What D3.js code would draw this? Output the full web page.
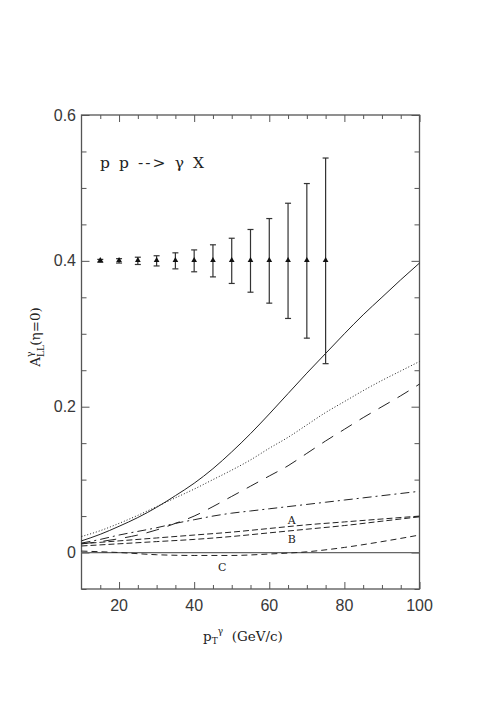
<!DOCTYPE html>
<html>
<head>
<meta charset="utf-8">
<script src="https://cdn.jsdelivr.net/npm/d3@7"></script>
<style>
  body { margin: 0; background: #fff; }
  svg { display: block; }
</style>
</head>
<body>
<div id="chart"></div>
<script>
// The svg
var width = 490;
var height = 708;

// plot frame
var plotLeft = 81.5, plotRight = 419.5, plotTop = 115, plotBottom = 589;

// data
var xGrid = [10, 15, 20, 25, 30, 35, 40, 45, 50, 55, 60, 65, 70, 75, 80, 85, 90, 95, 100];
var solid    = [0.016, 0.025, 0.036, 0.048, 0.062, 0.078, 0.095, 0.115, 0.138, 0.163, 0.190, 0.218, 0.246, 0.273, 0.300, 0.326, 0.350, 0.374, 0.397];
var dotted   = [0.022, 0.030, 0.040, 0.051, 0.063, 0.075, 0.087, 0.100, 0.113, 0.127, 0.143, 0.158, 0.175, 0.192, 0.207, 0.222, 0.236, 0.249, 0.262];
var longDash = [0.012, 0.015, 0.019, 0.024, 0.031, 0.040, 0.050, 0.063, 0.077, 0.091, 0.105, 0.119, 0.136, 0.153, 0.169, 0.185, 0.200, 0.215, 0.231];
var dashDot  = [0.013, 0.018, 0.024, 0.029, 0.034, 0.040, 0.045, 0.050, 0.054, 0.057, 0.060, 0.063, 0.066, 0.069, 0.072, 0.075, 0.078, 0.081, 0.084];

var xCoarse = [10, 20, 30, 40, 50, 60, 70, 80, 90, 100];
var curveA = [0.012, 0.016, 0.020, 0.024, 0.028, 0.033, 0.038, 0.042, 0.046, 0.050];
var curveB = [0.009, 0.012, 0.015, 0.018, 0.022, 0.027, 0.032, 0.037, 0.043, 0.049];
var curveC = [0.002, 0.000, -0.003, -0.004, -0.004, -0.002, 0.001, 0.007, 0.015, 0.024];

// error bar points
var errX   = [15, 20, 25, 30, 35, 40, 45, 50, 55, 60, 65, 70, 75];
var errY   = [0.4, 0.4, 0.4, 0.4, 0.4, 0.4, 0.4, 0.4, 0.4, 0.4, 0.4, 0.4, 0.4];
var errBar = [0.002, 0.003, 0.005, 0.007, 0.011, 0.015, 0.022, 0.031, 0.043, 0.058, 0.079, 0.106, 0.141];

var xTicks = [20, 40, 60, 80, 100];
var yTicks = [0, 0.2, 0.4, 0.6];
var yTickLabels = ["0", "0.2", "0.4", "0.6"];

var svg = d3.select("#chart")
    .append("svg")
    .attr("width", width)
    .attr("height", height);

var x = d3.scaleLinear().domain([10, 100]).range([plotLeft, plotRight]);
var y = d3.scaleLinear().domain([-0.05, 0.6]).range([plotBottom, plotTop]);

var frameColor = "#555";

// ticks (inward on all four sides)
var minorX = d3.range(15, 100, 5).filter(function (d) { return d % 20 != 0 });
var minorY = [-0.05, 0.05, 0.1, 0.15, 0.25, 0.3, 0.35, 0.45, 0.5, 0.55];

function drawAxis(axis, tx, ty) {
    var g = svg.append("g").attr("transform", "translate(" + tx + "," + ty + ")").call(axis);
    g.select(".domain").remove();
    g.selectAll("line").attr("stroke", frameColor).attr("stroke-width", 1);
    return g;
}

drawAxis(d3.axisBottom(x).tickValues(xTicks).tickSize(-7).tickFormat(""), 0, plotBottom);
drawAxis(d3.axisBottom(x).tickValues(minorX).tickSize(-4).tickFormat(""), 0, plotBottom);
drawAxis(d3.axisTop(x).tickValues(xTicks).tickSize(-7).tickFormat(""), 0, plotTop);
drawAxis(d3.axisTop(x).tickValues(minorX).tickSize(-4).tickFormat(""), 0, plotTop);
drawAxis(d3.axisLeft(y).tickValues(yTicks).tickSize(-8).tickFormat(""), plotLeft, 0);
drawAxis(d3.axisLeft(y).tickValues(minorY).tickSize(-5).tickFormat(""), plotLeft, 0);
drawAxis(d3.axisRight(y).tickValues(yTicks).tickSize(-8).tickFormat(""), plotRight, 0);
drawAxis(d3.axisRight(y).tickValues(minorY).tickSize(-5).tickFormat(""), plotRight, 0);

// tick labels
svg.append("g")
    .selectAll("text")
    .data(xTicks)
    .enter()
    .append("text")
    .attr("x", function (d) { return x(d) })
    .attr("y", 611)
    .attr("text-anchor", "middle")
    .attr("font-family", "Liberation Sans, Arial, sans-serif")
    .attr("font-size", 16)
    .attr("fill", "#383838")
    .text(function (d) { return d });

svg.append("g")
    .selectAll("text")
    .data(yTicks)
    .enter()
    .append("text")
    .attr("x", 76)
    .attr("y", function (d) { return y(d) + 5.5 })
    .attr("text-anchor", "end")
    .attr("font-family", "Liberation Sans, Arial, sans-serif")
    .attr("font-size", 16)
    .attr("fill", "#383838")
    .text(function (d, i) { return yTickLabels[i] });

// frame
svg.append("rect")
    .attr("x", plotLeft)
    .attr("y", plotTop)
    .attr("width", plotRight - plotLeft)
    .attr("height", plotBottom - plotTop)
    .attr("fill", "none")
    .attr("stroke", frameColor)
    .attr("stroke-width", 1.3);

// zero line
svg.append("line")
    .attr("x1", x(10)).attr("x2", x(100))
    .attr("y1", y(0)).attr("y2", y(0))
    .attr("stroke", "#666")
    .attr("stroke-width", 1.3);

// curves
var line = d3.line()
    .x(function (d) { return x(d[0]) })
    .y(function (d) { return y(d[1]) })
    .curve(d3.curveMonotoneX);

var curves = [
    { xs: xGrid, ys: solid, dash: null },
    { xs: xGrid, ys: dotted, dash: "1,2" },
    { xs: xGrid, ys: longDash, dash: "13,9" },
    { xs: xGrid, ys: dashDot, dash: "9,4,2,4" },
    { xs: xCoarse, ys: curveA, dash: "6,3" },
    { xs: xCoarse, ys: curveB, dash: "6,3" },
    { xs: xCoarse, ys: curveC, dash: "6,4" }
];

svg.append("g")
    .selectAll("path")
    .data(curves)
    .enter()
    .append("path")
    .attr("d", function (c) { return line(c.xs.map(function (v, i) { return [v, c.ys[i]] })) })
    .attr("fill", "none")
    .attr("stroke", "#222")
    .attr("stroke-width", 1)
    .attr("stroke-dasharray", function (c) { return c.dash });

// curve labels
var labels = [
    { t: "A", xv: 66, yv: 0.045 },
    { t: "B", xv: 66, yv: 0.019 },
    { t: "C", xv: 47.5, yv: -0.02 }
];
svg.append("g")
    .selectAll("text")
    .data(labels)
    .enter()
    .append("text")
    .attr("x", function (d) { return x(d.xv) })
    .attr("y", function (d) { return y(d.yv) + 4 })
    .attr("text-anchor", "middle")
    .attr("font-family", "DejaVu Serif, serif")
    .attr("font-size", 11)
    .attr("fill", "#222")
    .text(function (d) { return d.t });

// error bars
var errs = errX.map(function (v, i) { return { x: v, y: errY[i], e: errBar[i] } });
var eg = svg.append("g").attr("stroke", "#333").attr("stroke-width", 1.2);
eg.selectAll(".bar")
    .data(errs)
    .enter()
    .append("line")
    .attr("x1", function (d) { return x(d.x) })
    .attr("x2", function (d) { return x(d.x) })
    .attr("y1", function (d) { return y(d.y - d.e) })
    .attr("y2", function (d) { return y(d.y + d.e) });
[-1, 1].forEach(function (s) {
    eg.selectAll(".cap" + s)
        .data(errs)
        .enter()
        .append("line")
        .attr("x1", function (d) { return x(d.x) - 3 })
        .attr("x2", function (d) { return x(d.x) + 3 })
        .attr("y1", function (d) { return y(d.y + s * d.e) })
        .attr("y2", function (d) { return y(d.y + s * d.e) });
});
svg.append("g")
    .selectAll("path")
    .data(errs)
    .enter()
    .append("path")
    .attr("d", d3.symbol().type(d3.symbolTriangle).size(14))
    .attr("transform", function (d) { return "translate(" + x(d.x) + "," + (y(d.y) - 0.5) + ")" })
    .attr("fill", "#111");

// title
svg.append("text")
    .attr("x", 100)
    .attr("y", 168)
    .attr("font-family", "DejaVu Serif, serif")
    .attr("font-size", 15.5)
    .attr("fill", "#222")
    .attr("textLength", 104)
    .attr("lengthAdjust", "spacing")
    .attr("xml:space", "preserve")
    .text("p p --> \u03b3 X");

// y axis label
var yl = svg.append("text")
    .attr("transform", "translate(40,337) rotate(-90)")
    .attr("text-anchor", "middle")
    .attr("font-family", "DejaVu Serif, serif")
    .attr("font-size", 13.5)
    .attr("fill", "#222");
yl.append("tspan").text("A");
yl.append("tspan").attr("font-size", 9).attr("dy", 4).text("LL");
yl.append("tspan").attr("font-size", 9).attr("dx", -12).attr("dy", -11).text("\u03b3");
yl.append("tspan").attr("dy", 7).attr("dx", 6).text("(\u03b7=0)");

// x axis label
var xl = svg.append("text")
    .attr("x", 203)
    .attr("y", 641)
    .attr("font-family", "DejaVu Serif, serif")
    .attr("font-size", 13.5)
    .attr("fill", "#222");
xl.append("tspan").text("p");
xl.append("tspan").attr("font-size", 9).attr("dy", 3).text("T");
xl.append("tspan").attr("font-size", 9).attr("dy", -10).text("\u03b3");
xl.append("tspan").attr("dy", 7).attr("xml:space", "preserve").text("\u00a0\u00a0(GeV/c)");
</script>
</body>
</html>
